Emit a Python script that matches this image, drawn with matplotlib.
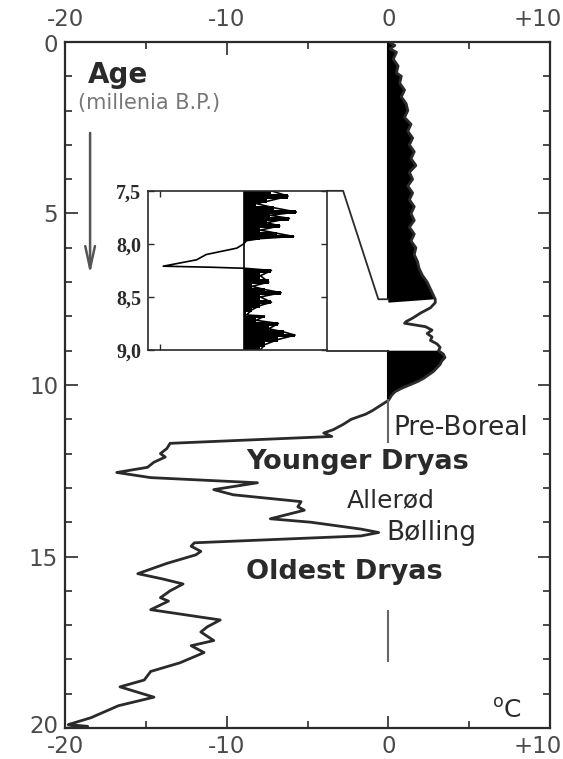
import numpy as np
import matplotlib.pyplot as plt
from matplotlib.transforms import ScaledTranslation

# --- data: age (ka B.P.) vs temperature anomaly (oC) ---
age = [0.0, 0.1, 0.2, 0.3, 0.5, 0.7, 0.9, 1.0, 1.2, 1.4, 1.6, 1.8, 2.0, 2.2,
       2.4, 2.6, 2.8, 3.0, 3.2, 3.4, 3.6, 3.8, 4.0, 4.2, 4.4, 4.6, 4.8, 5.0,
       5.2, 5.4, 5.6, 5.8, 6.0, 6.2, 6.4, 6.6, 6.8, 7.0, 7.2, 7.4, 7.5, 7.6,
       7.75, 7.9, 8.05, 8.15, 8.2, 8.3, 8.4, 8.5, 8.6, 8.7, 8.8, 8.9, 9.0,
       9.1, 9.2, 9.3, 9.4, 9.5, 9.6, 9.7, 9.8, 9.9, 10.0, 10.1, 10.2, 10.3,
       10.45, 10.6, 10.75, 10.85, 11.0, 11.15, 11.3, 11.4, 11.5, 11.7, 11.85,
       12.0, 12.1, 12.25, 12.4, 12.55, 12.7, 12.85, 13.05, 13.2, 13.4, 13.55,
       13.65, 13.9, 14.0, 14.2, 14.3, 14.4, 14.6, 14.7, 14.85, 14.95, 15.2,
       15.5, 15.65, 15.8, 16.0, 16.2, 16.3, 16.55, 16.85, 17.05, 17.2, 17.45,
       17.6, 17.8, 18.1, 18.35, 18.6, 18.8, 19.1, 19.35, 19.7, 19.9, 19.95, 20.0]
temp = [0.0, 0.4, 0.1, 0.5, 0.3, 0.6, 0.5, 0.8, 0.7, 1.0, 0.8, 1.1, 1.2, 1.0,
        1.4, 1.2, 1.5, 1.3, 1.6, 1.4, 1.7, 1.3, 1.5, 1.2, 1.5, 1.3, 1.6, 1.4,
        1.6, 1.3, 1.6, 1.4, 1.7, 1.6, 1.8, 1.9, 2.1, 2.4, 2.6, 2.8, 2.9, 2.9,
        2.6, 2.0, 1.5, 1.1, 1.0, 2.3, 2.7, 2.4, 2.7, 2.6, 3.0, 3.2, 3.1,
        3.4, 3.5, 3.3, 3.2, 3.0, 2.8, 2.5, 2.2, 1.8, 1.3, 0.8, 0.4, 0.2,
        0.0, -0.5, -1.0, -1.4, -2.3, -2.8, -3.4, -4.0, -3.5, -13.5, -13.7,
        -14.1, -13.8, -14.5, -14.9, -16.8, -14.7, -8.1, -10.8, -9.6, -5.4, -5.6,
        -5.2, -7.3, -4.8, -1.7, -0.6, -1.7, -12.0, -12.2, -11.6, -11.9, -13.7,
        -15.5, -14.0, -12.7, -13.5, -14.1, -13.6, -14.7, -10.4, -11.2, -11.6, -10.8,
        -12.2, -11.4, -12.9, -14.7, -15.1, -16.6, -14.5, -16.7, -18.4, -19.8, -18.6, -19.8]

# inset: 7.5 - 9.0 ka detail
age_zoom = [7.5, 7.55, 7.6, 7.62, 7.66, 7.7, 7.73, 7.76, 7.8, 7.83, 7.87, 7.9,
            7.93, 7.95, 7.97, 8.0, 8.04, 8.1, 8.15, 8.21, 8.22, 8.23, 8.25, 8.3,
            8.36, 8.4, 8.43, 8.46, 8.5, 8.55, 8.58, 8.62, 8.67, 8.68, 8.72, 8.75,
            8.8, 8.83, 8.86, 8.9, 8.95, 9.0]
temp_zoom = [2.0, 3.2, 1.65, 0.9, 2.2, 3.8, 1.9, 3.3, 1.65, 2.6, 1.2, 2.4,
             3.6, 1.2, 0.2, 0.0, -0.5, -2.7, -3.4, -5.8, -2.3, 0.1, 2.0, 1.2,
             1.8, 0.6, 1.5, 2.7, 1.2, 2.0, 1.2, 0.6, 0.2, 1.5, 0.9, 2.5,
             1.8, 2.9, 3.7, 2.5, 1.5, 1.2]

zoom_top, zoom_bottom = 7.5, 9.0
zoom_ticks = [7.5, 8.0, 8.5, 9.0]
zoom_labels = ["7,5", "8,0", "8,5", "9,0"]

x_ticks = [-20, -10, 0, 10]
x_labels = ["-20", "-10", "0", "+10"]

periods = [("Pre-Boreal", 0.3, 11.25, "normal", 19),
           ("Younger Dryas", -8.8, 12.25, "bold", 19.5),
           ("Allerød", -2.6, 13.35, "normal", 18),
           ("Bølling", -0.1, 14.3, "normal", 19),
           ("Oldest Dryas", -8.8, 15.45, "bold", 19.5)]

age = np.array(age)
temp = np.array(temp)
age_zoom = np.array(age_zoom)
temp_zoom = np.array(temp_zoom)

plt.rcParams['font.family'] = ['DejaVu Sans']
fig = plt.figure(figsize=(5.63, 7.59), dpi=100)
ax = fig.add_axes([0.1155, 0.0408, 0.8615, 0.9039])

ink = '#2a2a2a'
grey = '#4a4a4a'

# main curve with black fill outside the zoomed window
keep = ((age <= zoom_top) | (age >= zoom_bottom)) & (temp >= 0)
ax.fill_betweenx(age, 0, temp, where=keep, color='black', lw=0, interpolate=True)
ax.plot(temp, age, color=ink, lw=2.0, solid_joinstyle='round')

# zero line pieces
ax.plot([0, 0], [0, zoom_top], color='black', lw=1.5)
ax.plot([0, 0], [zoom_bottom, 10.45], color='black', lw=1.5)
ax.plot([0, 0], [10.45, 11.65], color='#666666', lw=1.5)
ax.plot([0, 0], [16.6, 18.05], color='#666666', lw=1.5)

ax.set_xlim(-20, 10)
ax.set_ylim(20, 0)
ax.set_xticks(x_ticks)
ax.set_xticklabels(x_labels)
ax.set_xticks([-15, -5, 5], minor=True)
ax.set_yticks([0, 5, 10, 15, 20])
ax.set_yticks(np.arange(0, 21, 1), minor=True)
ax.tick_params(which='both', direction='in', top=True, right=True,
               labeltop=True, labelbottom=True, labelleft=True,
               colors=ink, labelcolor=grey, labelsize=16.5, width=1.2)
ax.tick_params(which='major', length=9)
ax.tick_params(which='minor', length=5)
ax.tick_params(axis='x', which='major', pad=5)
ax.tick_params(axis='y', which='major', pad=5)
for s in ax.spines.values():
    s.set_linewidth(1.6)
    s.set_color(ink)

# small nudges of tick labels, as in the original layout
def nudge(lab, dx, dy):
    lab.set_transform(lab.get_transform() +
                      ScaledTranslation(dx / 100, dy / 100, fig.dpi_scale_trans))

for tick in ax.xaxis.get_major_ticks():
    nudge(tick.label2, 0, 4)
last = ax.xaxis.get_major_ticks()[-1]
nudge(last.label1, -12, 0)
nudge(last.label2, -12, 0)
yt = ax.yaxis.get_major_ticks()
nudge(yt[0].label1, 0, -1)
nudge(yt[-1].label1, 0, 4)

# labels
ax.text(-18.6, 0.96, "Age", fontsize=20, fontweight='bold', color=ink,
        ha='left', va='center')
ax.text(-19.2, 1.78, "(millenia B.P.)", fontsize=15, color='#777777',
        ha='left', va='center')
ax.annotate("", xy=(-18.45, 6.85), xytext=(-18.45, 2.57),
            arrowprops=dict(arrowstyle='->,head_length=1.6,head_width=0.35',
                            color='#555555', lw=1.8))
for name, xv, yv, w, fs in periods:
    ax.text(xv, yv, name, fontsize=fs, fontweight=w, color=ink,
            ha='left', va='center')
ax.text(6.4, 19.5, "$^{\\mathrm{o}}$C", fontsize=18, color=ink,
        ha='left', va='center')

# inset
inset_box = [0.171, 0.551, 0.369, 0.232]
axin = ax.inset_axes(inset_box)
axin.fill_betweenx(age_zoom, 0, temp_zoom, where=temp_zoom >= 0,
                   color='black', lw=0, step='mid')
axin.plot(temp_zoom, age_zoom, color='black', lw=1.2)
axin.axvline(0, color='black', lw=1.2)
axin.set_xlim(-6.9, 6.0)
axin.set_ylim(zoom_bottom, zoom_top)
axin.set_yticks(zoom_ticks)
axin.set_yticklabels(zoom_labels, family='Liberation Serif',
                     fontweight='bold', fontsize=14.5, color=ink)
axin.set_xticks([-6])
axin.set_xticklabels([])
axin.tick_params(which='both', direction='in', top=True, right=True,
                 length=4, width=1, colors=ink, pad=5)
for s in axin.spines.values():
    s.set_linewidth(1.2)
    s.set_color(ink)

# connector lines from inset box to the zoomed window
to_data = ax.transAxes + ax.transData.inverted()
x_r, y_top = to_data.transform((inset_box[0] + inset_box[2],
                                inset_box[1] + inset_box[3]))
ax.plot([x_r, x_r + 1.0, -0.62, 0], [y_top, y_top, zoom_top, zoom_top],
        color=ink, lw=1.3)
ax.plot([x_r, 0], [zoom_bottom, zoom_bottom], color=ink, lw=1.3)

fig.savefig("out.png", dpi=100)
